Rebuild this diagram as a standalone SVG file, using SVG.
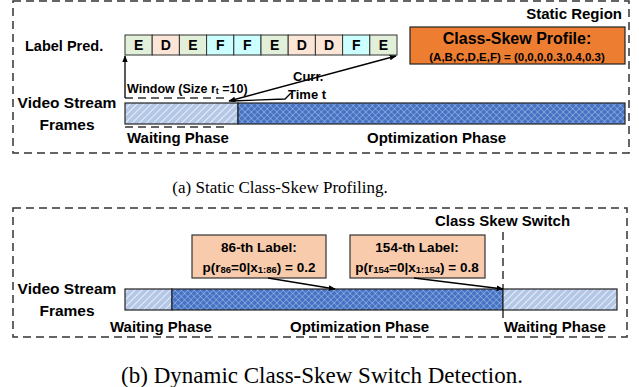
<svg xmlns="http://www.w3.org/2000/svg" width="639" height="387" viewBox="0 0 639 387">
<defs>
<pattern id="wait" width="5" height="5" patternUnits="userSpaceOnUse" patternTransform="rotate(45)">
<rect width="5" height="5" fill="#b4c7e7"/>
<line x1="0" y1="0" x2="0" y2="5" stroke="#ffffff" stroke-width="1.4"/>
</pattern>
<pattern id="opt" width="4.5" height="4.5" patternUnits="userSpaceOnUse" patternTransform="rotate(45)">
<rect width="4.5" height="4.5" fill="#4472c4"/>
<line x1="0" y1="0" x2="0" y2="4.5" stroke="#c5d3ee" stroke-width="0.8"/>
<line x1="0" y1="0" x2="4.5" y2="0" stroke="#c5d3ee" stroke-width="0.8"/>
</pattern>
<marker id="ah" viewBox="0 0 10 10" refX="9" refY="5" markerWidth="7" markerHeight="7" orient="auto-start-reverse" markerUnits="userSpaceOnUse">
<path d="M0,1 L10,5 L0,9 z" fill="#000"/>
</marker>
</defs>
<style>
.t{font-family:"Liberation Sans",Arial,sans-serif;font-weight:bold;fill:#000}
.cap{font-family:"Liberation Serif","Times New Roman",serif;fill:#000}
.dash{fill:none;stroke:#333;stroke-width:1.5;stroke-dasharray:8 5}
.cell{stroke:#333;stroke-width:1}
.E{fill:#e2f0d9}.D{fill:#fbe5d6}.F{fill:#ccffff}
.bar{stroke:#222;stroke-width:1.2}
.box{fill:#f8cbad;stroke:#333;stroke-width:1.2}
.ln{stroke:#000;stroke-width:1.3;fill:none}
</style>

<!-- Panel (a) -->
<g id="panel-a">
<rect class="dash" x="13" y="1" width="616" height="152"/>
<text class="t" x="622" y="19" font-size="15" text-anchor="end">Static Region</text>
<text class="t" x="25" y="51" font-size="14.5">Label Pred.</text>
</g>

<g id="label-cells" class="t" font-size="14" text-anchor="middle">
<rect class="cell E" x="125" y="35" width="27.2" height="20"/><text x="138.6" y="50">E</text>
<rect class="cell D" x="152.2" y="35" width="27.2" height="20"/><text x="165.8" y="50">D</text>
<rect class="cell E" x="179.4" y="35" width="27.2" height="20"/><text x="193" y="50">E</text>
<rect class="cell F" x="206.6" y="35" width="27.2" height="20"/><text x="220.2" y="50">F</text>
<rect class="cell F" x="233.8" y="35" width="27.2" height="20"/><text x="247.4" y="50">F</text>
<rect class="cell E" x="261" y="35" width="27.2" height="20"/><text x="274.6" y="50">E</text>
<rect class="cell D" x="288.2" y="35" width="27.2" height="20"/><text x="301.8" y="50">D</text>
<rect class="cell D" x="315.4" y="35" width="27.2" height="20"/><text x="329" y="50">D</text>
<rect class="cell F" x="342.6" y="35" width="27.2" height="20"/><text x="356.2" y="50">F</text>
<rect class="cell E" x="369.8" y="35" width="27.2" height="20"/><text x="383.4" y="50">E</text>
</g>

<g id="profile">
<rect x="410" y="27" width="215" height="37" fill="#ed7d31" stroke="#222" stroke-width="1.2"/>
<text class="t" x="517" y="44" font-size="16" text-anchor="middle">Class-Skew Profile:</text>
<text class="t" x="517" y="61" font-size="11.5" text-anchor="middle">(A,B,C,D,E,F) = (0,0,0,0.3,0.4,0.3)</text>
</g>

<g id="stream-a">
<text class="t" x="67" y="108" font-size="15.5" text-anchor="middle">Video Stream</text>
<text class="t" x="67" y="130" font-size="15.5" text-anchor="middle">Frames</text>
<rect class="bar" x="125" y="103" width="113" height="21" fill="url(#wait)"/>
<rect class="bar" x="238" y="103" width="387" height="21" fill="url(#opt)"/>
<text class="t" x="127" y="143" font-size="15">Waiting Phase</text>
<text class="t" x="367" y="143" font-size="15">Optimization Phase</text>
</g>

<g id="window">
<line class="dash" x1="125" y1="98" x2="226" y2="98" stroke-dasharray="7 4"/>
<line class="dash" x1="125" y1="127" x2="226" y2="127" stroke-dasharray="7 4"/>
<text class="t" x="127" y="93" font-size="12.5">Window (Size r<tspan font-size="9" dy="1">t</tspan><tspan dy="-1"> =10)</tspan></text>
</g>

<g id="curr-time">
<text class="t" x="293" y="81" font-size="13">Curr.</text>
<text class="t" x="288" y="99" font-size="13">Time t</text>
</g>

<g id="connectors-a">
<line class="ln" x1="125" y1="98" x2="125" y2="56" marker-end="url(#ah)"/>
<line class="ln" x1="229" y1="101" x2="396" y2="56" marker-start="url(#ah)" marker-end="url(#ah)"/>
<polyline class="ln" points="231,101 285,99 291,93"/>
</g>

<text class="cap" x="280" y="193" font-size="17" text-anchor="middle">(a) Static Class-Skew Profiling.</text>

<!-- Panel (b) -->
<g id="panel-b">
<rect class="dash" x="13" y="208" width="614" height="129"/>
<text class="t" x="435" y="226" font-size="15">Class Skew Switch</text>
<line class="dash" x1="503" y1="232" x2="503" y2="322"/>
</g>

<g id="stream-b">
<text class="t" x="67" y="294" font-size="15.5" text-anchor="middle">Video Stream</text>
<text class="t" x="67" y="316" font-size="15.5" text-anchor="middle">Frames</text>
<rect class="bar" x="125" y="289" width="47" height="21" fill="url(#wait)"/>
<rect class="bar" x="172" y="289" width="331" height="21" fill="url(#opt)"/>
<rect class="bar" x="503" y="289" width="114" height="21" fill="url(#wait)"/>
<text class="t" x="110" y="332" font-size="15">Waiting Phase</text>
<text class="t" x="290" y="332" font-size="15">Optimization Phase</text>
<text class="t" x="504" y="332" font-size="15">Waiting Phase</text>
</g>

<g id="label86">
<rect class="box" x="192" y="235" width="134" height="43"/>
<text class="t" x="259" y="252" font-size="13.5" text-anchor="middle">86-th Label:</text>
<text class="t" x="259" y="272" font-size="13.5" text-anchor="middle">p(r<tspan font-size="9.5" dy="1">86</tspan><tspan dy="-1">=0|x</tspan><tspan font-size="9.5" dy="1">1:86</tspan><tspan dy="-1">) = 0.2</tspan></text>
</g>

<g id="label154">
<rect class="box" x="350" y="235" width="135" height="43"/>
<text class="t" x="417" y="252" font-size="13.5" text-anchor="middle">154-th Label:</text>
<text class="t" x="417" y="272" font-size="13.5" text-anchor="middle">p(r<tspan font-size="9.5" dy="1">154</tspan><tspan dy="-1">=0|x</tspan><tspan font-size="9.5" dy="1">1:154</tspan><tspan dy="-1">) = 0.8</tspan></text>
</g>

<g id="connectors-b">
<line class="ln" x1="268" y1="278" x2="335" y2="289" marker-end="url(#ah)"/>
<line class="ln" x1="414" y1="278" x2="503" y2="289" marker-end="url(#ah)"/>
</g>

<text class="cap" x="322" y="383" font-size="23" text-anchor="middle">(b) Dynamic Class-Skew Switch Detection.</text>
</svg>
